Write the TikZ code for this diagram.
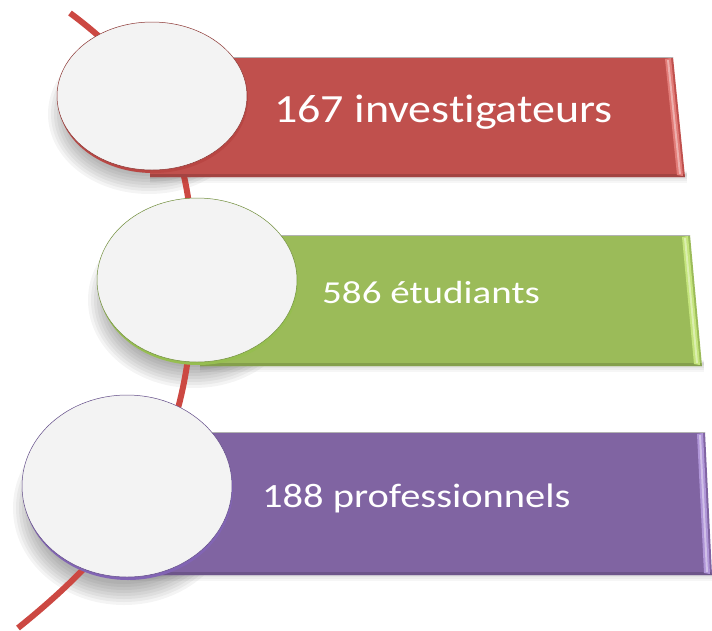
\documentclass[tikz,border=0pt]{standalone}
\usepackage{fontspec}
\setmainfont{Carlito}[Ligatures=NoCommon]
\usetikzlibrary{shapes.geometric}
\definecolor{redm}{RGB}{192,80,77}
\definecolor{redl}{RGB}{226,124,120}
\definecolor{redd}{RGB}{185,70,67}
\definecolor{grnm}{RGB}{155,187,89}
\definecolor{grnl}{RGB}{196,228,124}
\definecolor{grnd}{RGB}{150,190,80}
\definecolor{purm}{RGB}{128,100,162}
\definecolor{purl}{RGB}{176,150,216}
\definecolor{purd}{RGB}{130,100,180}
\definecolor{face}{RGB}{243,243,243}
\definecolor{curvec}{RGB}{204,72,66}
\tikzset{
  txt/.style={text=white, inner sep=0pt, anchor=base west},
  curveline/.style={draw=curvec, line width=6pt},
}
\newcommand{\mybar}[7]{% x0, ytop, xtr, xbr, ybot, main, light
  \foreach \k in {1,...,6}{\fill[black,opacity=0.035] (#1,#5-6+\k*2) -- (#4+2,#5-6+\k*2) -- (#4+2,#5-\k) -- (#1,#5-\k) -- cycle;}
  \fill[#6] (#1,#2) -- (#3,#2) -- (#4,#5) -- (#1,#5) -- cycle;
  \fill[#6!85!black] (#1,#5-3) -- (#4-1,#5-3) -- (#4,#5) -- (#1,#5) -- cycle;
  \fill[#7] (#3-8,#2+2) -- (#3-2,#2+1) -- (#4-2,#5-1) -- (#4-8,#5-2) -- cycle;
  \fill[#7!60!white] (#3-6,#2+3) -- (#3-4,#2+3) -- (#4-4,#5-3) -- (#4-6,#5-3) -- cycle;
  \draw[black!30,line width=0.6pt] (#1,#2) -- (#3,#2);
}
\newcommand{\mydisc}[6]{% name, cx, cy, rx, ry, rimcolor
  \fill[#6] (#2+1,#3+3) ellipse ({#4} and {#5});
  \node[ellipse, draw=#6!75!black, line width=0.5pt, fill=face,
        minimum width=2*#4 pt, minimum height=2*#5 pt, inner sep=0pt] (#1) at (#2,#3) {};
}
\newcommand{\myshadow}[5]{% cx, cy, rx, ry, dy
  \foreach \k in {0,3,...,21}{\fill[black,opacity=0.045] (#1-3,#2+#5) ellipse ({#3-\k+6} and {#4-\k+6});}
}
\begin{document}
\begin{tikzpicture}[x=1pt,y=-1pt]
\useasboundingbox (0,0) rectangle (712,630);
\fill[white] (0,0) rectangle (712,630);

% shadows of discs
\myshadow{152}{96}{95}{74}{18}
\myshadow{197}{280}{100}{82}{20}
\myshadow{127}{486}{105}{91}{22}

% the curve
\coordinate (ctop) at (70,13);
\coordinate (cmid) at (193,280);
\coordinate (cbot) at (18,628);
\draw[curveline] (ctop) .. controls (160,80) and (195,150) .. (cmid)
  .. controls (193,440) and (140,530) .. (cbot);

% bars
\mybar{150}{57}{673}{685}{177}{redm}{redl}
\mybar{200}{235}{690}{702}{366}{grnm}{grnl}
\mybar{130}{432}{705}{712}{575}{purm}{purl}

% discs
\mydisc{d1}{152}{96}{95}{74}{redd}
\mydisc{d2}{197}{280}{100}{82}{grnd}
\mydisc{d3}{127}{486}{105}{91}{purd}

% texts
\node[txt] (t1) at (274,122) {\scalebox{1.15}[1]{\fontsize{40}{48}\selectfont 167 investigateurs}};
\node[txt] (t2) at (322,303) {\scalebox{1.22}[1]{\fontsize{32}{38}\selectfont 586 étudiants}};
\node[txt] (t3) at (262,507) {\scalebox{1.19}[1]{\fontsize{34}{40}\selectfont 188 professionnels}};
\end{tikzpicture}
\end{document}
